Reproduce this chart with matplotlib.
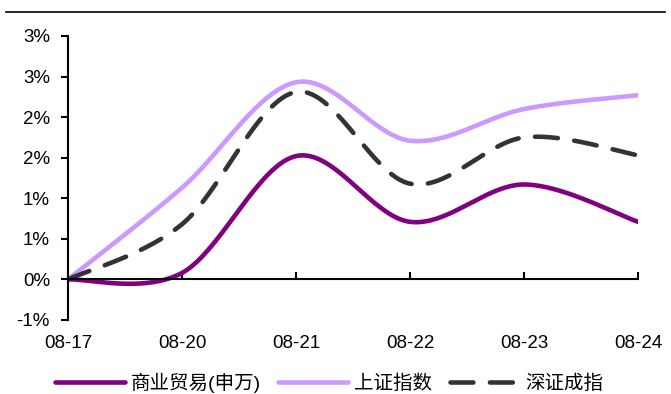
import numpy as np
import matplotlib
matplotlib.use("Agg")
from matplotlib import pyplot as plt
from matplotlib.lines import Line2D
from matplotlib.ticker import FuncFormatter

plt.rcParams['font.family'] = ['Liberation Sans', 'Noto Sans CJK SC', 'DejaVu Sans']

dates = ["08-17", "08-20", "08-21", "08-22", "08-23", "08-24"]
# cumulative change, %
trade = [0.0, 0.08, 1.52, 0.71, 1.17, 0.71]
shanghai = [0.0, 1.13, 2.43, 1.71, 2.10, 2.27]
shenzhen = [0.0, 0.68, 2.31, 1.18, 1.75, 1.53]

names = ["商业贸易(申万)", "上证指数", "深证成指"]
colors = ["#800080", "#CC99FF", "#333333"]


def smooth(xs, ys, n=40):
    # excel-style smoothed line: cubic bezier through the points
    p = np.column_stack([xs, ys]).astype(float)
    ext = np.vstack([p[0], p, p[-1]])
    out = []
    for i in range(len(p) - 1):
        p0, p3 = p[i], p[i + 1]
        c1 = p0 + (ext[i + 2] - ext[i]) / 6.0
        c2 = p3 - (ext[i + 3] - ext[i + 1]) / 6.0
        t = np.linspace(0, 1, n)[:, None]
        seg = ((1 - t) ** 3) * p0 + 3 * ((1 - t) ** 2) * t * c1 \
            + 3 * (1 - t) * t ** 2 * c2 + t ** 3 * p3
        out.append(seg if i == 0 else seg[1:])
    out = np.vstack(out)
    return out[:, 0], out[:, 1]


fig = plt.figure(figsize=(6.71, 3.94), dpi=100)
ax = fig.add_axes([68 / 671, 1 - 320 / 394, 570 / 671, 284 / 394])

x = np.arange(len(dates))
for ys, name, c in zip([trade, shanghai, shenzhen], names, colors):
    sx, sy = smooth(x, ys)
    if c == "#333333":
        ax.plot(sx, sy, color=c, lw=3.3, label=name, dashes=(5, 3.6),
                dash_capstyle='round', solid_capstyle='round')
    else:
        ax.plot(sx, sy, color=c, lw=3.3, label=name, solid_capstyle='round')

ax.set_xlim(0, len(dates) - 1)
ax.set_ylim(-0.5, 3.0)
ax.set_yticks(np.arange(-0.5, 3.01, 0.5))


def pct(v, pos):
    r = np.sign(v) * np.floor(abs(v) + 0.5)
    return "%d%%" % r


ax.yaxis.set_major_formatter(FuncFormatter(pct))
ax.set_xticks(x)
ax.set_xticklabels(dates)

for s in ["top", "right"]:
    ax.spines[s].set_visible(False)
ax.spines["bottom"].set_position(("data", 0))
ax.spines["bottom"].set_linewidth(1.5)
ax.spines["left"].set_linewidth(1.5)
ax.tick_params(axis="y", direction="out", length=5, width=1.5, labelsize=13.5, pad=8)
ax.tick_params(axis="x", direction="in", length=5, width=1.5, labelsize=13.5, pad=40)

ax.legend(loc="center left", bbox_to_anchor=(47 / 671, 1 - 383 / 394),
          bbox_transform=fig.transFigure, ncol=3, frameon=False, borderaxespad=0,
          fontsize=14, handlelength=3.6, handletextpad=0.3, columnspacing=0.9)

fig.add_artist(Line2D([6 / 671, 665 / 671], [1 - 12 / 394] * 2,
                      transform=fig.transFigure, color="black", lw=1.2))

fig.savefig("out.png", dpi=100)
